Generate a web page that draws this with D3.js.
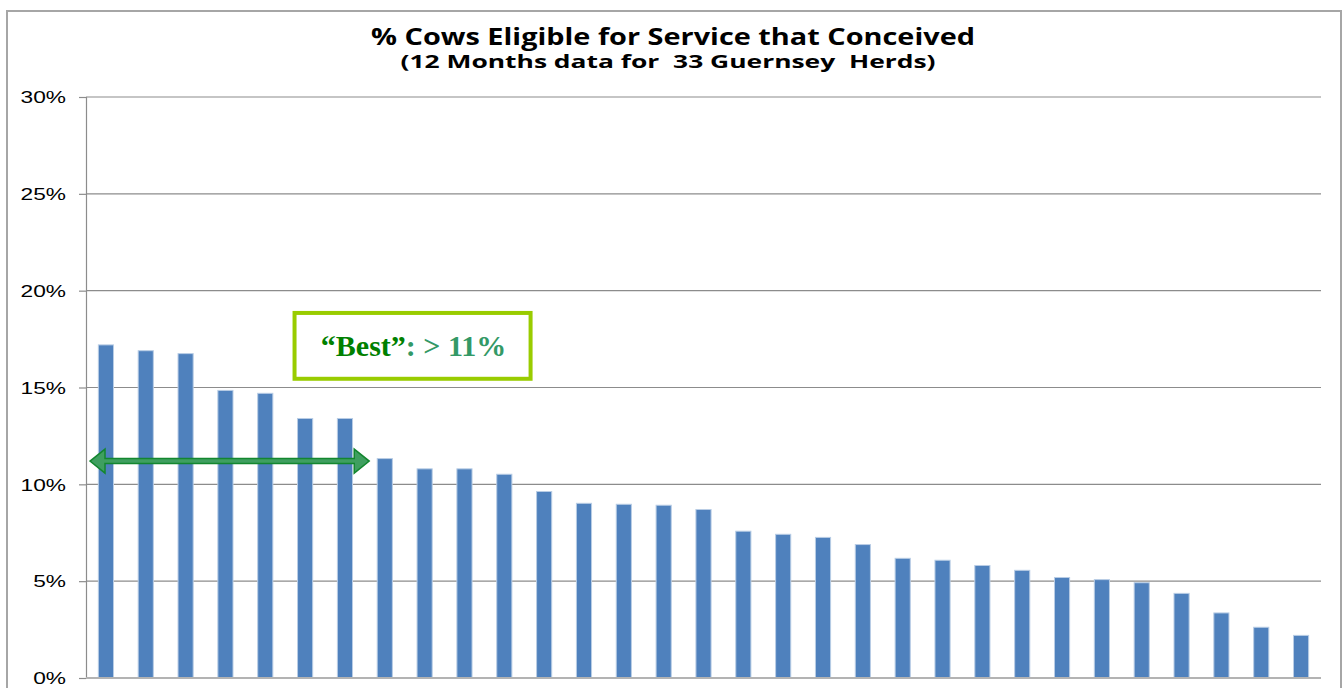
<!DOCTYPE html>
<html>
<head>
<meta charset="utf-8">
<script src="https://cdn.jsdelivr.net/npm/d3@7"></script>
<style>
	body { margin: 0; background: #fff; }
	#chart { width: 1344px; height: 688px; }
</style>
</head>
<body>
<div id="chart"></div>
<script>
// herds, sorted by % conceived (no x labels in the original)
const herds = [1, 2, 3, 4, 5, 6, 7, 8, 9, 10, 11, 12, 13, 14, 15, 16,
	17, 18, 19, 20, 21, 22, 23, 24, 25, 26, 27, 28, 29, 30, 31];
const conceived = [17.2, 16.9, 16.75, 14.85, 14.7, 13.4, 13.4, 11.33, 10.8, 10.8, 10.52,
	9.63, 9.02, 8.97, 8.92, 8.7, 7.58, 7.42, 7.26, 6.89, 6.18, 6.08, 5.81, 5.56,
	5.19, 5.08, 4.92, 4.37, 3.36, 2.62, 2.2];
const yTicks = [0, 5, 10, 15, 20, 25, 30];
const titleText = "% Cows Eligible for Service that Conceived";
const subtitleText = "(12 Months data for  33 Guernsey  Herds)";
const bestLevel = 11.2;

let margin = {top: 97, right: 23, bottom: 10, left: 86};
let W = 1344, H = 688;
let width = W - margin.left - margin.right;
let height = H - margin.top - margin.bottom;

let svg = d3.select("#chart").append("svg")
	.attr("width", W)
	.attr("height", H);

// outer chart border
svg.append("rect")
	.attr("x", 7).attr("y", 11)
	.attr("width", 1334).attr("height", 700)
	.attr("fill", "none")
	.attr("stroke", "#a6a6a6")
	.attr("stroke-width", 2);

// titles
svg.append("text")
	.attr("x", 673).attr("y", 45)
	.attr("text-anchor", "middle")
	.attr("font-family", "'Open Sans', sans-serif")
	.attr("font-weight", "bold")
	.attr("font-size", 23)
	.attr("textLength", 604)
	.attr("lengthAdjust", "spacingAndGlyphs")
	.text(titleText);
svg.append("text")
	.attr("x", 668).attr("y", 68)
	.attr("text-anchor", "middle")
	.attr("font-family", "'Open Sans', sans-serif")
	.attr("font-weight", "bold")
	.attr("font-size", 17)
	.attr("textLength", 535)
	.attr("lengthAdjust", "spacingAndGlyphs")
	.style("white-space", "pre")
	.text(subtitleText);

let g = svg.append("g")
	.attr("transform", "translate(" + margin.left + "," + margin.top + ")");

// scales
let x = d3.scaleBand()
	.domain(herds)
	.range([0, width])
	.paddingInner(0.62)
	.paddingOuter(0.31);
let y = d3.scaleLinear()
	.domain([0, 30])
	.range([height, 0]);

// gridlines
g.selectAll(".grid")
	.data(yTicks.filter(d => d > 0))
	.enter().append("line")
	.attr("x1", 0).attr("x2", width)
	.attr("y1", d => y(d)).attr("y2", d => y(d))
	.attr("stroke", "#8c8c8c")
	.attr("stroke-width", 1.2);

// y axis
let yAxis = d3.axisLeft(y)
	.tickValues(yTicks)
	.tickSize(7)
	.tickFormat(d => d + "%");
let ya = g.append("g").call(yAxis);
ya.select(".domain").attr("stroke", "#8c8c8c").attr("stroke-width", 1.2);
ya.selectAll(".tick line").attr("stroke", "#8c8c8c").attr("stroke-width", 1.2);
ya.selectAll(".tick text")
	.attr("x", -20 / 1.42)
	.attr("dy", "0.36em")
	.attr("transform", "scale(1.42,1)")
	.attr("font-family", "'Liberation Sans', Arial, sans-serif")
	.attr("font-size", 16)
	.attr("fill", "#000");

// bars
g.selectAll(".bar")
	.data(conceived)
	.enter().append("rect")
	.attr("x", (d, i) => x(herds[i]))
	.attr("y", d => y(d))
	.attr("width", x.bandwidth())
	.attr("height", d => y(0) - y(d))
	.attr("fill", "#4f81bd")
	.attr("stroke", "#b9cde5")
	.attr("stroke-width", 1);

// baseline
g.append("line")
	.attr("x1", 0).attr("x2", width)
	.attr("y1", y(0)).attr("y2", y(0))
	.attr("stroke", "#b3b3b3")
	.attr("stroke-width", 2);

// double-headed arrow at the "best" level
let ax0 = 4, ax1 = x(herds[7]) - 8, ay = y(bestLevel);
let hl = 15, hh = 12, sh = 2.5;
let pts = [
	[ax0, ay], [ax0 + hl, ay - hh], [ax0 + hl, ay - sh], [ax1 - hl, ay - sh],
	[ax1 - hl, ay - hh], [ax1, ay], [ax1 - hl, ay + hh], [ax1 - hl, ay + sh],
	[ax0 + hl, ay + sh], [ax0 + hl, ay + hh]
];
g.append("polygon")
	.attr("points", pts.map(p => p.join(",")).join(" "))
	.attr("fill", "#3f9f60")
	.attr("stroke", "#13862f")
	.attr("stroke-width", 1.5)
	.attr("stroke-linejoin", "miter");

// "Best" annotation box
let bx0 = x(herds[5]) - 3, bx1 = x(herds[11]) - 6;
let by0 = y(18.85), by1 = y(15.45);
g.append("rect")
	.attr("x", bx0).attr("y", by0)
	.attr("width", bx1 - bx0).attr("height", by1 - by0)
	.attr("fill", "#fff")
	.attr("stroke", "#99cc00")
	.attr("stroke-width", 4);
let bt = g.append("text")
	.attr("x", (bx0 + bx1) / 2 + 1)
	.attr("y", (by0 + by1) / 2 + 10)
	.attr("text-anchor", "middle")
	.attr("font-family", "'Liberation Serif', 'Times New Roman', serif")
	.attr("font-weight", "bold")
	.attr("font-size", 30);
bt.append("tspan").attr("fill", "#008000").text("\u201cBest\u201d");
bt.append("tspan").attr("fill", "#339966").text(": > 11%");
</script>
</body>
</html>
